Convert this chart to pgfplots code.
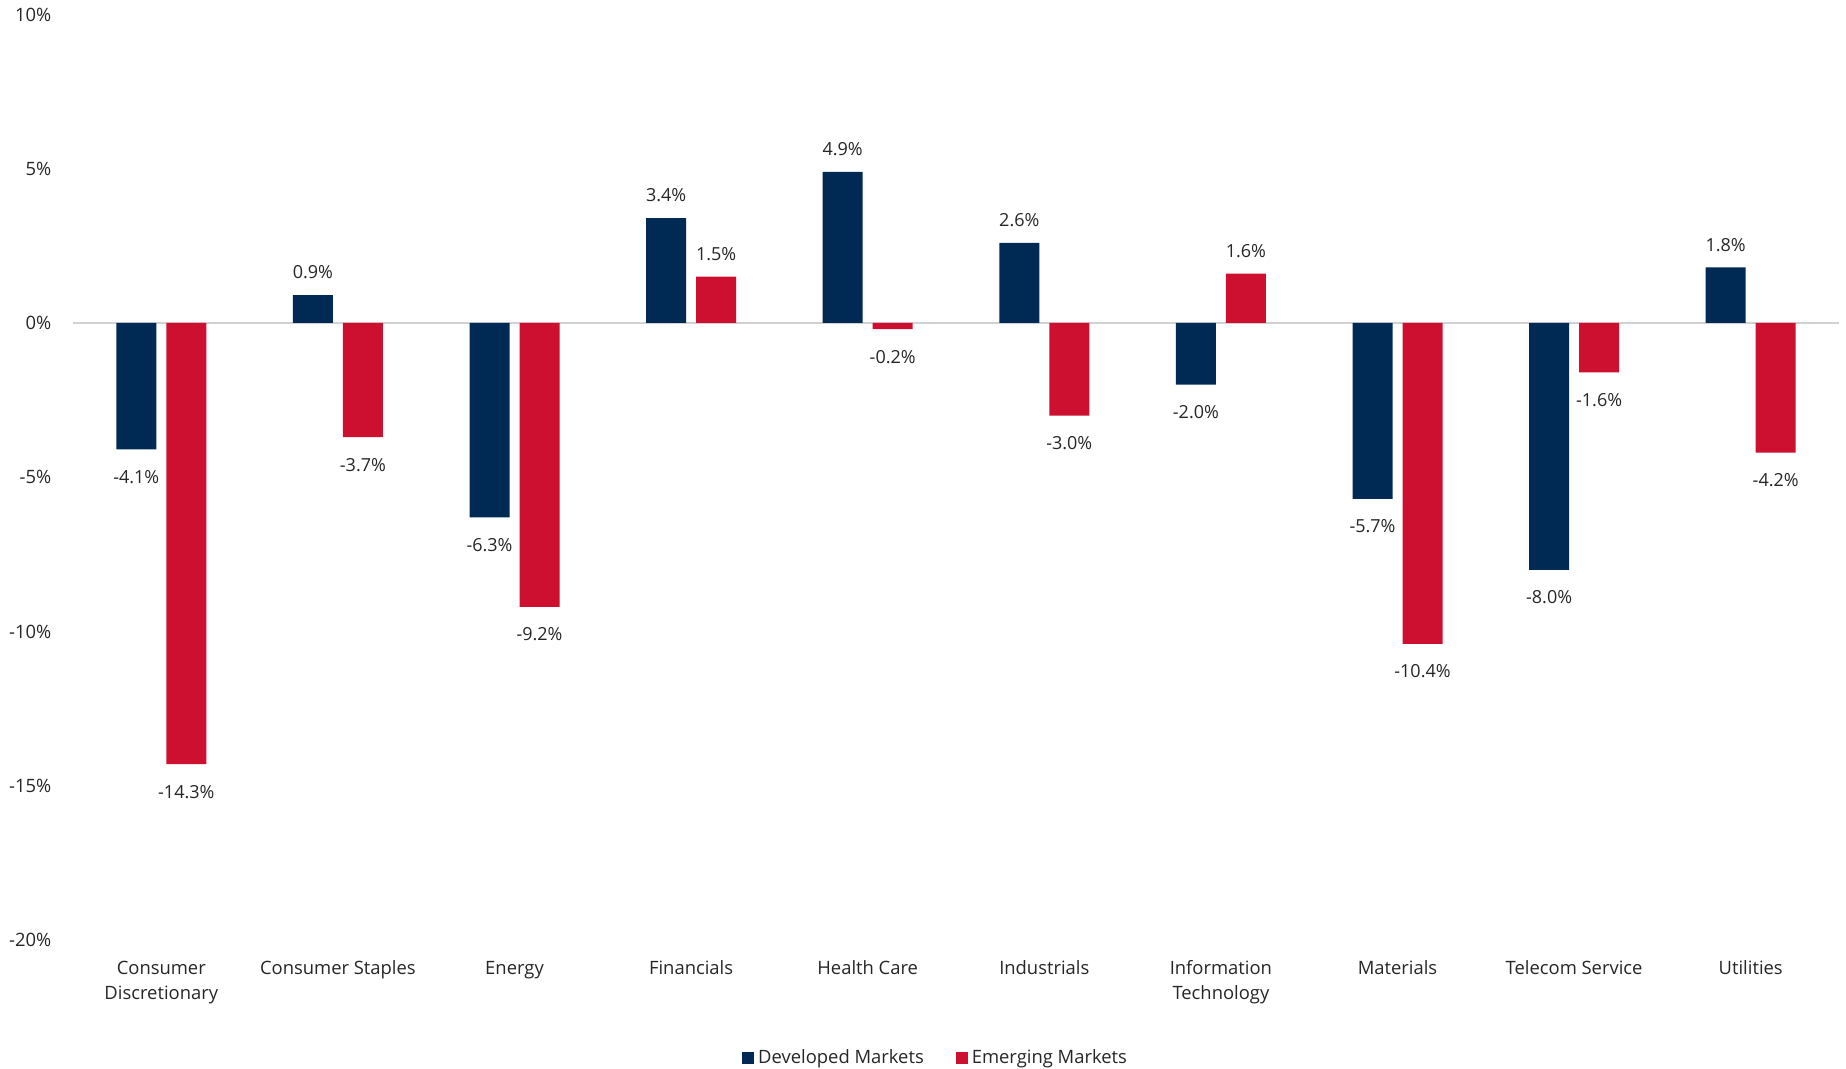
\documentclass[border=0pt]{standalone}
\usepackage{pgfplots}
\pgfplotsset{compat=1.18}
\usepackage{fontspec}
\setmainfont{Open Sans}
\definecolor{dm}{HTML}{002A54}
\definecolor{emk}{HTML}{CE1030}
\definecolor{txt}{HTML}{262626}
\newcommand{\tl}[1]{\begin{tabular}[t]{@{}c@{}}#1\end{tabular}}
\begin{document}
\begin{tikzpicture}[font=\fontsize{9.2}{12.5}\selectfont]
\begin{axis}[
  scale only axis, width=883pt, height=462.75pt,
  ybar=5pt, bar width=20pt,
  xmin=-0.5, xmax=9.5, ymin=-20, ymax=10,
  axis line style={draw=none},
  major tick length=0pt,
  tick style={draw=none},
  xtick={0,...,9},
  xticklabels={{\tl{Consumer\\Discretionary}},{\tl{Consumer Staples}},{\tl{Energy}},{\tl{Financials}},{\tl{Health Care}},{\tl{Industrials}},{\tl{Information\\Technology}},{\tl{Materials}},{\tl{Telecom Service}},{\tl{Utilities}}},
  xticklabel style={anchor=base, yshift=-17.5pt, inner sep=0pt, text=txt, font=\fontsize{9.2}{12.5}\selectfont},
  ytick={-20,-15,...,10},
  yticklabel={\pgfmathprintnumber{\tick}\%},
  yticklabel style={anchor=east, inner sep=0pt, xshift=-10.7pt, text=txt, font=\fontsize{9.2}{12.5}\selectfont},
  /pgf/number format/assume math mode=true,
  extra y ticks={0},
  extra y tick labels={},
  extra y tick style={grid=major, major grid style={draw=black!18, line width=1pt}},
  nodes near coords={\pgfmathprintnumber[fixed,fixed zerofill,precision=1]{\pgfplotspointmeta}\%},
  nodes near coords align={vertical},
  every node near coord/.append style={text=txt, font=\fontsize{9}{11}\selectfont, text height=14.85pt, text depth=6pt, inner sep=2pt},
  legend style={draw=none, fill=none, at={(0.4890,-0.1275)}, anchor=center, legend columns=2,
    /tikz/every even column/.append style={column sep=14pt}, font=\fontsize{9.2}{11}\selectfont, text=txt},
  legend image code/.code={\fill[#1] (0pt,-3pt) rectangle (6pt,3pt);},
]
\addplot[fill=dm, draw=none] coordinates {(0,-4.1) (1,0.9) (2,-6.3) (3,3.4) (4,4.9) (5,2.6) (6,-2.0) (7,-5.7) (8,-8.0) (9,1.8)};
\addplot[fill=emk, draw=none] coordinates {(0,-14.3) (1,-3.7) (2,-9.2) (3,1.5) (4,-0.2) (5,-3.0) (6,1.6) (7,-10.4) (8,-1.6) (9,-4.2)};
\legend{Developed Markets, Emerging Markets}
\end{axis}
\pgfresetboundingbox
\useasboundingbox (-36.5pt,-64.5pt) rectangle (886.5pt,470pt);
\end{tikzpicture}
\end{document}
